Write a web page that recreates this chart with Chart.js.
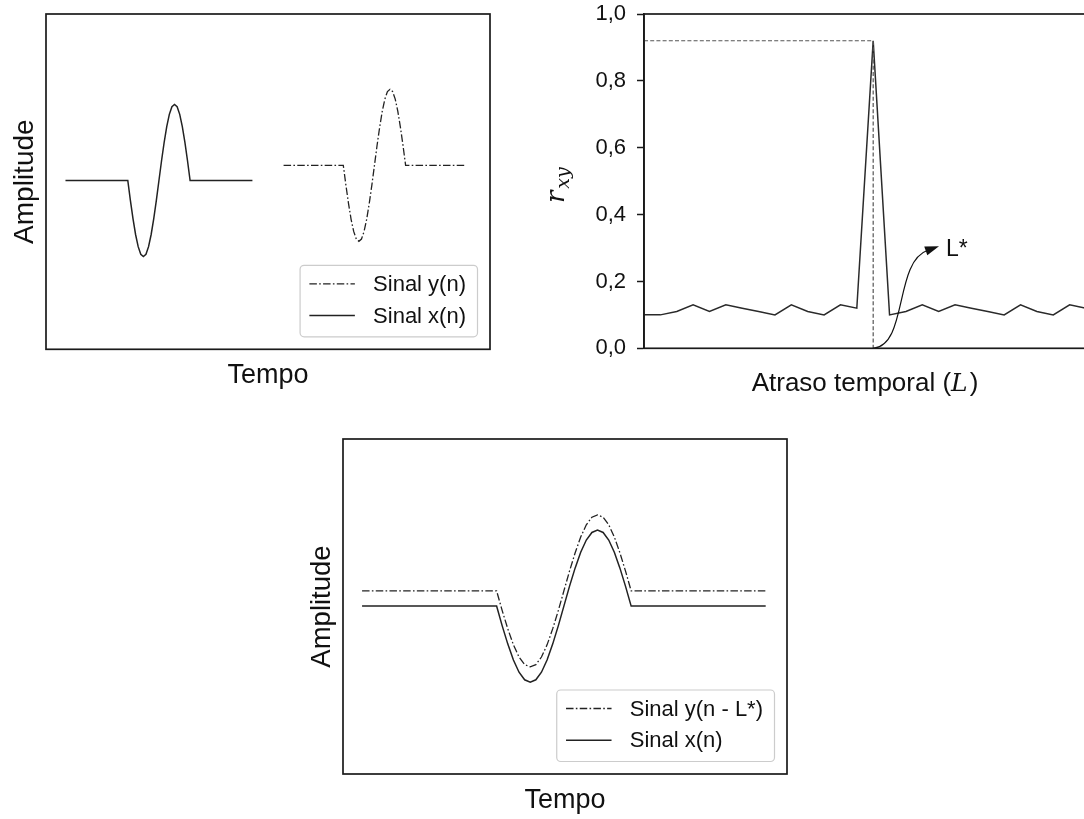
<!DOCTYPE html>
<html><head><meta charset="utf-8">
<script src="https://cdn.jsdelivr.net/npm/chart.js@4.4.1/dist/chart.umd.min.js"></script>
<style>
html,body{margin:0;padding:0;background:#fff;width:1084px;height:819px;overflow:hidden;}
canvas{position:absolute;}
</style></head><body>
<canvas id="c1" width="540" height="400" style="left:0px;top:0px"></canvas>
<canvas id="c2" width="560" height="400" style="left:540px;top:0px"></canvas>
<canvas id="c3" width="540" height="419" style="left:290px;top:400px"></canvas>
<script>
// ---------- DATA ----------
// Signal x(n): sample index and amplitude
const nSinalX = [7, 31, 32, 33, 34, 35, 36, 37, 38, 39, 40, 41, 42, 43, 44, 45, 46, 47, 48, 49, 50, 51, 52, 53, 54, 55, 79];
const sinalX  = [0, 0, -0.26, -0.5, -0.71, -0.87, -0.97, -1, -0.97, -0.87, -0.71, -0.5, -0.26, 0, 0.26, 0.5, 0.71, 0.87, 0.97, 1, 0.97, 0.87, 0.71, 0.5, 0.26, 0, 0];
// Signal y(n): delayed copy with offset
const nSinalY = [91, 114, 115, 116, 117, 118, 119, 120, 121, 122, 123, 124, 125, 126, 127, 128, 129, 130, 131, 132, 133, 134, 135, 136, 137, 138, 161];
const sinalY  = [0.2, 0.2, -0.06, -0.3, -0.51, -0.67, -0.77, -0.8, -0.77, -0.67, -0.51, -0.3, -0.06, 0.2, 0.46, 0.7, 0.91, 1.07, 1.17, 1.2, 1.17, 1.07, 0.91, 0.7, 0.46, 0.2, 0.2];
// Signal y(n - L*): aligned with x(n)
const nSinalYAlinhado = [7, 31, 32, 33, 34, 35, 36, 37, 38, 39, 40, 41, 42, 43, 44, 45, 46, 47, 48, 49, 50, 51, 52, 53, 54, 55, 79];
const sinalYAlinhado  = [0.2, 0.2, -0.06, -0.3, -0.51, -0.67, -0.77, -0.8, -0.77, -0.67, -0.51, -0.3, -0.06, 0.2, 0.46, 0.7, 0.91, 1.07, 1.17, 1.2, 1.17, 1.07, 0.91, 0.7, 0.46, 0.2, 0.2];
// Cross-correlation r_xy vs lag L
const atrasoL = [0, 1, 2, 3, 4, 5, 6, 7, 8, 9, 10, 11, 12, 13, 14, 15, 16, 17, 18, 19, 20, 21, 22, 23, 24, 25, 26, 27];
const rxy     = [0.10, 0.10, 0.11, 0.13, 0.11, 0.13, 0.12, 0.11, 0.10, 0.13, 0.11, 0.10, 0.13, 0.12, 0.92, 0.10, 0.11, 0.13, 0.11, 0.13, 0.12, 0.11, 0.10, 0.13, 0.11, 0.10, 0.13, 0.12];
const rTickLabels = ['0,0', '0,2', '0,4', '0,6', '0,8', '1,0'];
const lagPico = 14;
const rPico = 0.92;

// ---------- HELPERS ----------
const FONT = "'Liberation Sans', Arial, Helvetica, sans-serif";
const SERIF = "'DejaVu Serif', 'Liberation Serif', serif";
const INK = '#1a1a1a';
const DASHDOT = [7.5, 2.3, 1.6, 2.3];
const pts = (ns, vs) => ns.map((n, i) => ({x: n, y: vs[i]}));

function frame(ctx, a) {
  ctx.save();
  ctx.strokeStyle = INK; ctx.lineWidth = 1.7; ctx.setLineDash([]);
  ctx.strokeRect(a.left, a.top, a.right - a.left, a.bottom - a.top);
  ctx.restore();
}
function titleBottom(ctx, text, cx, baseY, size) {
  ctx.save();
  ctx.font = size + 'px ' + FONT; ctx.fillStyle = '#111';
  ctx.textAlign = 'center'; ctx.textBaseline = 'alphabetic';
  ctx.fillText(text, cx, baseY);
  ctx.restore();
}
function titleLeft(ctx, text, baseX, cy, size) {
  ctx.save();
  ctx.translate(baseX, cy); ctx.rotate(-Math.PI / 2);
  ctx.font = size + 'px ' + FONT; ctx.fillStyle = '#111';
  ctx.textAlign = 'center'; ctx.textBaseline = 'alphabetic';
  ctx.fillText(text, 0, 0);
  ctx.restore();
}
function legendBox(chart, size) {
  const ctx = chart.ctx, a = chart.chartArea, dsets = chart.data.datasets;
  ctx.save();
  ctx.font = size + 'px ' + FONT;
  let tw = 0;
  dsets.forEach(d => { tw = Math.max(tw, ctx.measureText(d.label).width); });
  const padL = 9.3, lineLen = 45.5, gap = 18.2, padR = 11.5, h = 71.5;
  const w = padL + lineLen + gap + tw + padR;
  const right = a.right - 12.5, bottom = a.bottom - 12.5;
  const left = right - w, top = bottom - h;
  ctx.beginPath();
  ctx.roundRect(left, top, w, h, 4);
  ctx.fillStyle = 'rgba(255,255,255,0.9)'; ctx.fill();
  ctx.strokeStyle = '#cccccc'; ctx.lineWidth = 1.2; ctx.stroke();
  const rows = [top + 18.5, top + 50.3];
  dsets.forEach((d, i) => {
    ctx.beginPath();
    ctx.setLineDash(d.borderDash || []);
    ctx.strokeStyle = d.borderColor; ctx.lineWidth = d.borderWidth;
    ctx.moveTo(left + padL, rows[i]); ctx.lineTo(left + padL + lineLen, rows[i]);
    ctx.stroke();
    ctx.setLineDash([]);
    ctx.fillStyle = '#111'; ctx.textAlign = 'left'; ctx.textBaseline = 'middle';
    ctx.fillText(d.label, left + padL + lineLen + gap, rows[i] + 1);
  });
  ctx.restore();
}
function baseOptions(xmin, xmax, ymin, ymax, pad) {
  return {
    responsive: false, animation: false, devicePixelRatio: 1,
    layout: {padding: pad},
    plugins: {legend: {display: false}, tooltip: {enabled: false}},
    elements: {point: {radius: 0}, line: {tension: 0}},
    scales: {
      x: {type: 'linear', min: xmin, max: xmax, display: false},
      y: {type: 'linear', min: ymin, max: ymax, display: false}
    }
  };
}

// ---------- CHART 1: x(n) and y(n) ----------
new Chart(document.getElementById('c1'), {
  type: 'line',
  data: {datasets: [
    {label: 'Sinal y(n)', data: pts(nSinalY, sinalY), borderColor: '#222', borderWidth: 1.3, borderDash: DASHDOT, fill: false},
    {label: 'Sinal x(n)', data: pts(nSinalX, sinalX), borderColor: '#222', borderWidth: 1.5, fill: false}
  ]},
  options: baseOptions(-0.5, 170.5, -2.22, 2.19, {left: 46, top: 14, right: 50, bottom: 50.7}),
  plugins: [{id: 'deco1', afterDraw(chart) {
    const ctx = chart.ctx, a = chart.chartArea;
    frame(ctx, a);
    legendBox(chart, 22);
    titleBottom(ctx, 'Tempo', (a.left + a.right) / 2, a.bottom + 34, 27);
    titleLeft(ctx, 'Amplitude', a.left - 13, (a.top + a.bottom) / 2, 28);
  }}]
});

// ---------- CHART 2: cross-correlation ----------
new Chart(document.getElementById('c2'), {
  type: 'line',
  data: {datasets: [
    {label: 'guia', data: [{x: atrasoL[0], y: rPico}, {x: lagPico, y: rPico}, {x: lagPico, y: 0}], borderColor: '#555', borderWidth: 1.2, borderDash: [4, 2.2], fill: false},
    {label: 'rxy', data: pts(atrasoL, rxy), borderColor: '#2a2a2a', borderWidth: 1.5, fill: false}
  ]},
  options: {
    responsive: false, animation: false, devicePixelRatio: 1,
    layout: {padding: {left: 0, top: 14, right: 14, bottom: 51.7}},
    plugins: {legend: {display: false}, tooltip: {enabled: false}},
    elements: {point: {radius: 0}, line: {tension: 0}},
    scales: {
      x: {type: 'linear', min: 0, max: 27, display: false},
      y: {
        type: 'linear', min: 0, max: 1,
        afterFit(scale) { scale.width = 104; scale.paddingTop = 0; scale.paddingBottom = 0; },
        ticks: {stepSize: 0.2, callback: (v, i) => rTickLabels[i], font: {family: FONT, size: 22}, color: '#111', padding: 11},
        grid: {display: true, drawOnChartArea: false, drawTicks: true, tickLength: 7, tickWidth: 1.5, tickColor: INK},
        border: {display: true, color: INK, width: 1.7}
      }
    }
  },
  plugins: [{id: 'deco2',
    afterDatasetsDraw(chart) {
      const ctx = chart.ctx, xs = chart.scales.x, ys = chart.scales.y;
      const P = (x, y) => [xs.getPixelForValue(x), ys.getPixelForValue(y)];
      const p0 = P(lagPico, 0), p1 = P(16.13, 0.01), p2 = P(15.27, 0.258), p3 = P(18.02, 0.305);
      const ang = Math.atan2(p3[1] - p2[1], p3[0] - p2[0]);
      const L = 14, hw = 4.6;
      const bx = p3[0] - Math.cos(ang) * L, by = p3[1] - Math.sin(ang) * L;
      ctx.save();
      ctx.strokeStyle = '#111'; ctx.lineWidth = 1.2; ctx.setLineDash([]);
      ctx.beginPath();
      ctx.moveTo(p0[0], p0[1]);
      ctx.bezierCurveTo(p1[0], p1[1], p2[0], p2[1], bx + Math.cos(ang) * 2, by + Math.sin(ang) * 2);
      ctx.stroke();
      ctx.beginPath();
      ctx.moveTo(p3[0], p3[1]);
      ctx.lineTo(bx - Math.sin(ang) * hw, by + Math.cos(ang) * hw);
      ctx.lineTo(bx + Math.sin(ang) * hw, by - Math.cos(ang) * hw);
      ctx.closePath();
      ctx.fillStyle = '#111'; ctx.fill();
      const t = P(18.45, 0.276);
      ctx.font = '23px ' + FONT; ctx.fillStyle = '#111';
      ctx.textAlign = 'left'; ctx.textBaseline = 'alphabetic';
      ctx.fillText('L*', t[0], t[1]);
      ctx.restore();
    },
    afterDraw(chart) {
      const ctx = chart.ctx, a = chart.chartArea;
      frame(ctx, a);
      // x title: "Atraso temporal (L)"
      ctx.save();
      ctx.fillStyle = '#111'; ctx.textBaseline = 'alphabetic'; ctx.textAlign = 'left';
      const f1 = '26px ' + FONT, f2 = 'italic 25px ' + SERIF;
      ctx.font = f1; const w1 = ctx.measureText('Atraso temporal (').width, w3 = ctx.measureText(')').width;
      ctx.font = f2; const w2 = ctx.measureText('L').width + 2;
      let x = (a.left + a.right) / 2 - (w1 + w2 + w3) / 2;
      const by = a.bottom + 43;
      ctx.font = f1; ctx.fillText('Atraso temporal (', x, by); x += w1;
      ctx.font = f2; ctx.fillText('L', x, by); x += w2;
      ctx.font = f1; ctx.fillText(')', x, by);
      ctx.restore();
      // y title: r_xy
      ctx.save();
      ctx.translate(a.left - 80, (a.top + a.bottom) / 2);
      ctx.rotate(-Math.PI / 2);
      ctx.fillStyle = '#111'; ctx.textBaseline = 'alphabetic'; ctx.textAlign = 'left';
      const fr = 'italic 26px ' + SERIF, fs = 'italic 19px ' + SERIF;
      ctx.font = fr; const wr = ctx.measureText('r').width + 2;
      ctx.font = fs; const ws = ctx.measureText('xy').width;
      const x0 = -(wr + ws) / 2 - 4;
      ctx.font = fr; ctx.fillText('r', x0, 0);
      ctx.font = fs; ctx.fillText('xy', x0 + wr, 5);
      ctx.restore();
    }
  }]
});

// ---------- CHART 3: aligned signals ----------
new Chart(document.getElementById('c3'), {
  type: 'line',
  data: {datasets: [
    {label: 'Sinal y(n - L*)', data: pts(nSinalYAlinhado, sinalYAlinhado), borderColor: '#222', borderWidth: 1.3, borderDash: DASHDOT, fill: false},
    {label: 'Sinal x(n)', data: pts(nSinalX, sinalX), borderColor: '#222', borderWidth: 1.5, fill: false}
  ]},
  options: baseOptions(3.6, 82.8, -2.21, 2.2, {left: 53, top: 39, right: 43, bottom: 45}),
  plugins: [{id: 'deco3', afterDraw(chart) {
    const ctx = chart.ctx, a = chart.chartArea;
    frame(ctx, a);
    legendBox(chart, 22);
    titleBottom(ctx, 'Tempo', (a.left + a.right) / 2, a.bottom + 34.3, 27);
    titleLeft(ctx, 'Amplitude', a.left - 13.5, (a.top + a.bottom) / 2, 27.5);
  }}]
});
</script>
</body></html>
